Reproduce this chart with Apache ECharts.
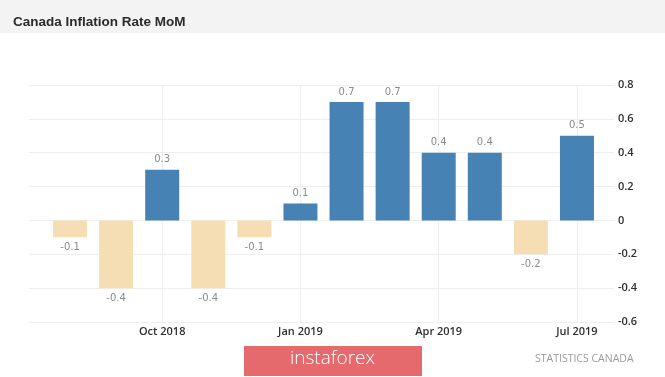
<!DOCTYPE html>
<html>
<head>
<meta charset="utf-8">
<script src="https://cdn.jsdelivr.net/npm/echarts@6/dist/echarts.min.js"></script>
<style>
  html, body { margin: 0; padding: 0; background: #fff; }
  #chart { width: 665px; height: 377px; }
</style>
</head>
<body>
<div id="chart"></div>
<script>
// monthly change, Aug 2018 .. Jul 2019
const months = ['Aug 2018', 'Sep 2018', 'Oct 2018', 'Nov 2018', 'Dec 2018', 'Jan 2019',
  'Feb 2019', 'Mar 2019', 'Apr 2019', 'May 2019', 'Jun 2019', 'Jul 2019']
const rateMoM = [-0.1, -0.4, 0.3, -0.4, -0.1, 0.1, 0.7, 0.7, 0.4, 0.4, -0.2, 0.5]
const tickLabels = ['Oct 2018', 'Jan 2019', 'Apr 2019', 'Jul 2019']
const yTicks = [-0.6, -0.4, -0.2, 0, 0.2, 0.4, 0.6, 0.8]

const BLUE = '#4682b4'
const TAN = '#f5deb3'

const chart = echarts.init(document.getElementById('chart'))

const yMin = yTicks[0]
const yMax = yTicks[yTicks.length - 1]

const option = {
  animation: false,
  backgroundColor: '#fff',
  title: {
    text: 'Canada Inflation Rate MoM',
    left: 8,
    top: 10,
    textStyle: {
      fontFamily: '"Liberation Sans", Arial, sans-serif',
      fontSize: 13.5,
      fontWeight: 'bold',
      color: '#2b2b2b'
    }
  },
  graphic: [
    { type: 'rect', left: 0, top: 0, z: -10, shape: { width: 665, height: 33 }, style: { fill: '#f3f3f3' } },
    { type: 'rect', left: 244, top: 346, shape: { width: 178, height: 30 }, style: { fill: '#e46a6e' } },
    {
      type: 'text', left: 290, top: 349,
      style: { text: 'instaforex', fill: '#fff', font: '300 19px "Open Sans", sans-serif' }
    },
    {
      type: 'text', left: 535, top: 354,
      style: { text: 'STATISTICS CANADA', fill: '#9a9a9a', font: '10.5px "Open Sans", sans-serif' }
    }
  ],
  grid: [
    { left: 29, right: 51, top: 85, bottom: 55 },
    { left: 47, right: 65, top: 85, bottom: 55 }
  ],
  xAxis: [
    { type: 'value', gridIndex: 0, show: false },
    {
      type: 'category',
      gridIndex: 1,
      data: months,
      axisLine: { show: false },
      axisTick: { show: false },
      axisLabel: {
        interval: (i) => tickLabels.includes(months[i]),
        margin: 4,
        color: '#2f2f2f',
        fontFamily: '"Open Sans", sans-serif',
        fontSize: 11,
        fontWeight: 600
      },
      splitLine: {
        show: true,
        interval: (i) => tickLabels.includes(months[i]),
        alignWithLabel: true,
        lineStyle: { color: '#eeeeee' }
      }
    }
  ],
  yAxis: [
    {
      type: 'value',
      gridIndex: 0,
      position: 'right',
      min: yMin,
      max: yMax,
      interval: 0.2,
      axisLine: { show: false },
      axisTick: { show: false },
      axisLabel: {
        margin: 4,
        color: '#2f2f2f',
        fontFamily: '"Open Sans", sans-serif',
        fontSize: 11,
        fontWeight: 600,
        formatter: (v) => String(Math.round(v * 10) / 10)
      },
      splitLine: { lineStyle: { color: '#eeeeee' } }
    },
    {
      type: 'value',
      gridIndex: 1,
      min: yMin,
      max: yMax,
      interval: 0.2,
      show: false,
      splitLine: { show: false }
    }
  ],
  series: [{
    type: 'bar',
    xAxisIndex: 1,
    yAxisIndex: 1,
    barWidth: 34,
    data: rateMoM.map(v => ({
      value: v,
      itemStyle: { color: v >= 0 ? BLUE : TAN },
      label: { position: v >= 0 ? 'top' : 'bottom' }
    })),
    label: {
      show: true,
      distance: 5,
      color: '#8a8a8a',
      fontFamily: '"DejaVu Sans", sans-serif',
      fontSize: 10,
      formatter: (p) => p.value.toFixed(1)
    }
  }]
}

chart.setOption(option)
</script>
</body>
</html>
